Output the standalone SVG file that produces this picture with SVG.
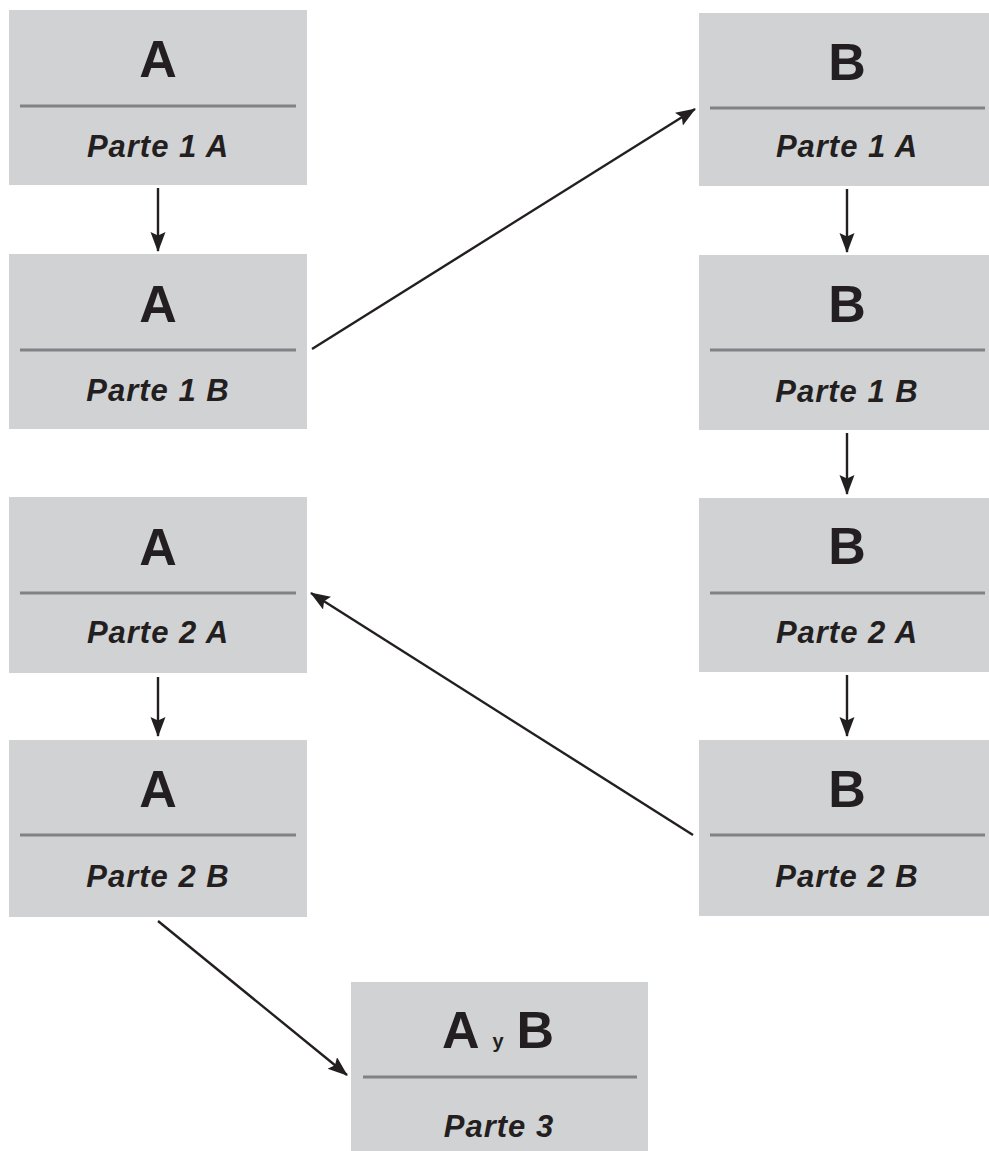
<svg xmlns="http://www.w3.org/2000/svg" width="989" height="1151" viewBox="0 0 989 1151">
<style>
.box{fill:#d1d2d4}
.div{stroke:#808285;stroke-width:3}
.t{font-family:"Liberation Sans",Arial,sans-serif;font-weight:bold;font-size:52px;fill:#231f20;text-anchor:middle}
.s{font-family:"Liberation Sans",Arial,sans-serif;font-weight:bold;font-style:italic;font-size:31px;letter-spacing:1px;fill:#231f20;text-anchor:middle}
.c{stroke:#231f20;stroke-width:2.4;fill:none;marker-end:url(#ah)}
</style>
<defs>
<marker id="ah" markerUnits="userSpaceOnUse" markerWidth="21" markerHeight="16" refX="19" refY="7.5" orient="auto">
<path d="M0,0 L20,7.5 L0,15 L3.5,7.5 z" fill="#231f20"/>
</marker>
</defs>
<rect width="989" height="1151" fill="#ffffff"/>
<g id="nodeA1">
<rect class="box" x="9" y="10" width="298" height="175"/>
<line class="div" x1="20" y1="106" x2="296" y2="106"/>
<text class="t" x="158" y="77">A</text>
<text class="s" x="158" y="157">Parte 1 A</text>
</g>
<g id="nodeA2">
<rect class="box" x="9" y="254" width="298" height="175"/>
<line class="div" x1="20" y1="350" x2="296" y2="350"/>
<text class="t" x="158" y="322">A</text>
<text class="s" x="158" y="401">Parte 1 B</text>
</g>
<g id="nodeA3">
<rect class="box" x="9" y="497" width="298" height="176"/>
<line class="div" x1="20" y1="593" x2="296" y2="593"/>
<text class="t" x="158" y="565">A</text>
<text class="s" x="158" y="643">Parte 2 A</text>
</g>
<g id="nodeA4">
<rect class="box" x="9" y="740" width="298" height="177"/>
<line class="div" x1="20" y1="835" x2="296" y2="835"/>
<text class="t" x="158" y="807">A</text>
<text class="s" x="158" y="887">Parte 2 B</text>
</g>
<g id="nodeB1">
<rect class="box" x="699" y="13" width="298" height="173"/>
<line class="div" x1="710" y1="108" x2="985" y2="108"/>
<text class="t" x="847" y="80">B</text>
<text class="s" x="847" y="157">Parte 1 A</text>
</g>
<g id="nodeB2">
<rect class="box" x="699" y="255" width="298" height="175"/>
<line class="div" x1="710" y1="350" x2="985" y2="350"/>
<text class="t" x="847" y="322">B</text>
<text class="s" x="847" y="402">Parte 1 B</text>
</g>
<g id="nodeB3">
<rect class="box" x="699" y="498" width="298" height="174"/>
<line class="div" x1="710" y1="593" x2="985" y2="593"/>
<text class="t" x="847" y="564">B</text>
<text class="s" x="847" y="643">Parte 2 A</text>
</g>
<g id="nodeB4">
<rect class="box" x="699" y="740" width="298" height="176"/>
<line class="div" x1="710" y1="835" x2="985" y2="835"/>
<text class="t" x="847" y="807">B</text>
<text class="s" x="847" y="887">Parte 2 B</text>
</g>
<g id="nodeC">
<rect class="box" x="351" y="982" width="297" height="175"/>
<line class="div" x1="363" y1="1077" x2="637" y2="1077"/>
<text class="t" x="498" y="1048">A<tspan font-size="20" dx="13">y</tspan><tspan dx="13">B</tspan></text>
<text class="s" x="499" y="1137">Parte 3</text>
</g>
<g id="connectors">
<path class="c" d="M158,188 L158,251"/>
<path class="c" d="M847,189 L847,252"/>
<path class="c" d="M847,433 L847,494"/>
<path class="c" d="M158,677 L158,736"/>
<path class="c" d="M847,675 L847,736"/>
<path class="c" d="M312,349 L695,109"/>
<path class="c" d="M693,835 L311,593"/>
<path class="c" d="M158,921 L347,1075"/>
</g>
</svg>
